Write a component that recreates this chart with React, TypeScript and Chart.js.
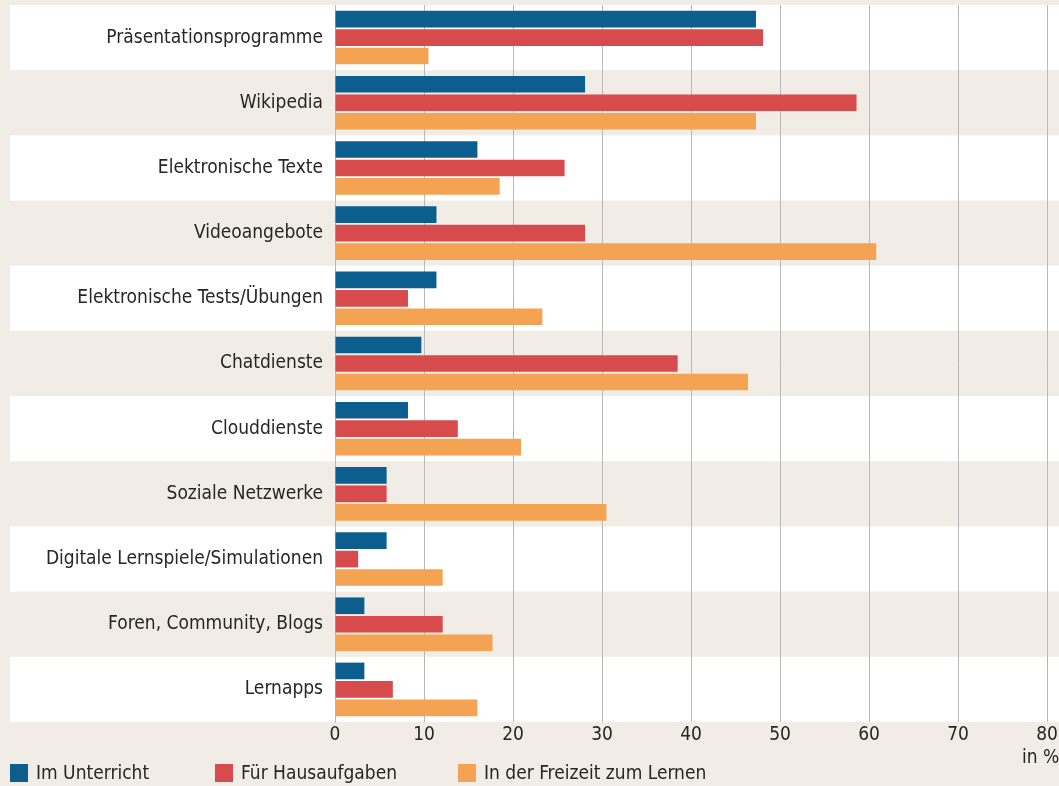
import React, { useEffect, useRef } from "react";
import { Chart, registerables } from "chart.js";

Chart.register(...registerables);

const categories = [
  "Präsentationsprogramme",
  "Wikipedia",
  "Elektronische Texte",
  "Videoangebote",
  "Elektronische Tests/Übungen",
  "Chatdienste",
  "Clouddienste",
  "Soziale Netzwerke",
  "Digitale Lernspiele/Simulationen",
  "Foren, Community, Blogs",
  "Lernapps",
];

const imUnterricht = [47.3, 28.1, 16.0, 11.4, 11.4, 9.7, 8.2, 5.8, 5.8, 3.3, 3.3];
const fuerHausaufgaben = [48.1, 58.6, 25.8, 28.1, 8.2, 38.5, 13.8, 5.8, 2.6, 12.1, 6.5];
const inDerFreizeit = [10.5, 47.3, 18.5, 60.8, 23.3, 46.4, 20.9, 30.5, 12.1, 17.7, 16.0];

const seriesLabels = ["Im Unterricht", "Für Hausaufgaben", "In der Freizeit zum Lernen"];
const seriesColors = ["#0b5e8e", "#d74b4d", "#f3a351"];
const xTicks = [0, 10, 20, 30, 40, 50, 60, 70, 80];
const unitLabel = "in %";

const FONT = '"DejaVu Sans Condensed", "Liberation Sans Narrow", "Noto Sans", sans-serif';
const BEIGE = "#f1ece5";

const rowsPlugin = {
  id: "rows",
  beforeDraw(chart: any) {
    const { ctx, width, height } = chart;
    const y = chart.scales.y;
    ctx.save();
    ctx.fillStyle = BEIGE;
    ctx.fillRect(0, 0, width, height);
    const step = y.getPixelForValue(1) - y.getPixelForValue(0);
    for (let i = 0; i < categories.length; i++) {
      if (i % 2 === 0) {
        const c = y.getPixelForValue(i);
        ctx.fillStyle = "#ffffff";
        ctx.fillRect(10, c - step / 2, width - 10, step);
      }
    }
    ctx.restore();
  },
  afterDraw(chart: any) {
    const { ctx } = chart;
    ctx.save();
    ctx.font = `19px ${FONT}`;
    ctx.textBaseline = "middle";
    ctx.fillStyle = "#262626";
    ctx.textAlign = "left";
    ctx.fillText(unitLabel, 1022, 758);
    const xs = [10, 215, 458];
    seriesLabels.forEach((l, i) => {
      ctx.fillStyle = seriesColors[i];
      ctx.fillRect(xs[i], 764, 18, 18);
      ctx.fillStyle = "#262626";
      ctx.fillText(l, xs[i] + 26, 774);
    });
    ctx.restore();
  },
};

export default function App() {
  const ref = useRef<HTMLCanvasElement | null>(null);
  useEffect(() => {
    if (!ref.current) return;
    const chart = new Chart(ref.current, {
      type: "bar",
      data: {
        labels: categories,
        datasets: [imUnterricht, fuerHausaufgaben, inDerFreizeit].map((d, i) => ({
          label: seriesLabels[i],
          data: d,
          backgroundColor: seriesColors[i],
          borderWidth: 0,
          categoryPercentage: 0.85,
          barPercentage: 0.9,
        })),
      },
      options: {
        indexAxis: "y",
        responsive: false,
        animation: false,
        devicePixelRatio: 1,
        layout: { padding: { top: 5, right: 12, left: 0, bottom: 0 } },
        plugins: { legend: { display: false }, tooltip: { enabled: false } },
        scales: {
          x: {
            min: 0,
            max: 80,
            afterBuildTicks: (s: any) => {
              s.ticks = xTicks.map((v) => ({ value: v }));
            },
            afterFit: (s: any) => {
              s.height = 64;
              s.paddingLeft = 0;
              s.paddingRight = 0;
            },
            grid: { color: "#b8b8b8", lineWidth: 1, drawTicks: false },
            border: { display: false },
            ticks: { color: "#262626", font: { family: FONT, size: 19 }, padding: 2, maxRotation: 0 },
          },
          y: {
            afterFit: (s: any) => {
              s.width = 335;
              s.paddingTop = 0;
              s.paddingBottom = 0;
            },
            grid: { display: false, drawTicks: false },
            border: { display: true, color: "#b8b8b8" },
            ticks: { color: "#262626", font: { family: FONT, size: 19 }, padding: 12 },
          },
        },
      },
      plugins: [rowsPlugin],
    } as any);
    return () => chart.destroy();
  }, []);
  return (
    <div style={{ position: "absolute", left: 0, top: 0, width: 1059, height: 786 }}>
      <canvas ref={ref} width={1059} height={786} />
    </div>
  );
}
